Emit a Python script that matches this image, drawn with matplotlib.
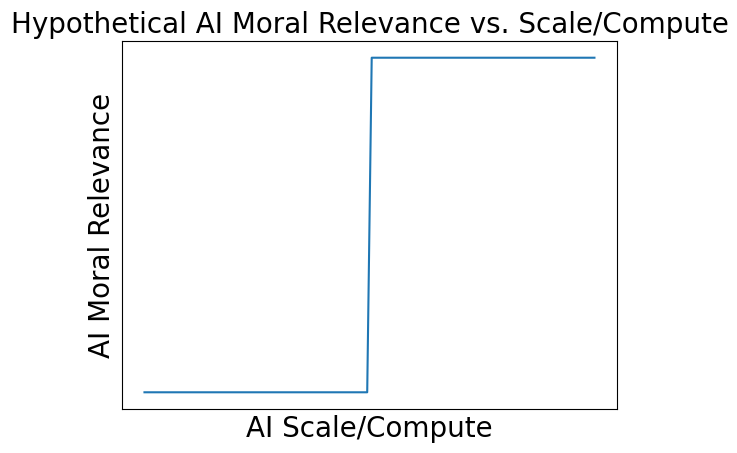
import matplotlib.pyplot as plt

# key points of the step curve
scale = [0.0, 0.495, 0.505, 1.0]
relevance = [0.0, 0.0, 1.0, 1.0]

fig = plt.figure(figsize=(7.37, 4.53), dpi=100)
ax = fig.add_axes([0.1655, 0.0971, 0.6716, 0.8124])
ax.plot(scale, relevance, color='#1f77b4')
ax.set_xticks([])
ax.set_yticks([])
ax.set_xlabel('AI Scale/Compute', fontsize=20)
ax.set_ylabel('AI Moral Relevance', fontsize=20)
ax.set_title('Hypothetical AI Moral Relevance vs. Scale/Compute', fontsize=20)
fig.savefig('out.png', dpi=100)
